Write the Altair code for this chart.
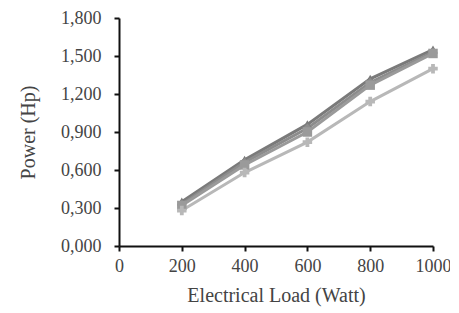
import altair as alt
import pandas as pd

loads = [200, 400, 600, 800, 1000]
series_names = ["S1", "S2", "S3", "S4"]
s1 = [0.35, 0.68, 0.96, 1.32, 1.55]
s2 = [0.33, 0.66, 0.93, 1.29, 1.53]
s3 = [0.32, 0.64, 0.90, 1.27, 1.52]
s4 = [0.28, 0.58, 0.82, 1.14, 1.40]
y_ticks = [0, 0.3, 0.6, 0.9, 1.2, 1.5, 1.8]
x_ticks = [0, 200, 400, 600, 800, 1000]

rows = []
for name, vals in zip(series_names, [s1, s2, s3, s4]):
    for x, v in zip(loads, vals):
        rows.append({"load": x, "power": v, "series": name})
df = pd.DataFrame(rows)

colors = ["#7a7a7a", "#8c8c8c", "#9a9a9a", "#b8b8b8"]
shapes = ["triangle-up", "diamond", "square", "cross"]

base = alt.Chart(df).encode(
    x=alt.X("load:Q", scale=alt.Scale(domain=[0, 1000], nice=False),
            axis=alt.Axis(values=x_ticks, title="Electrical Load (Watt)", format="d",
                          grid=False, tickSize=5, labelPadding=6, titlePadding=10,
                          labelOverlap=False, labelFlush=False)),
    y=alt.Y("power:Q", scale=alt.Scale(domain=[0, 1.8], nice=False),
            axis=alt.Axis(values=y_ticks, title="Power (Hp)",
                          grid=False, tickSize=5, labelPadding=13, titlePadding=22,
                          labelOverlap=False, labelFlush=False,
                          labelExpr="replace(format(datum.value, '.3f'), '.', ',')")),
    color=alt.Color("series:N", scale=alt.Scale(domain=series_names, range=colors), legend=None),
)

lines = base.mark_line(strokeWidth=3)
points = base.mark_point(filled=True, size=90, opacity=1).encode(
    shape=alt.Shape("series:N", scale=alt.Scale(domain=series_names, range=shapes), legend=None))

chart = alt.layer(lines, points).properties(
    width=314, height=228,
    autosize=alt.AutoSizeParams(type="none"),
    padding={"left": 111, "top": 10, "right": 17, "bottom": 61},
).configure_view(stroke=None).configure_axis(
    domainColor="#111111", domainWidth=2, tickColor="#111111", tickWidth=2,
    labelFont="Liberation Serif", titleFont="Liberation Serif",
    labelFontSize=18, titleFontSize=20, titleFontWeight="normal",
    labelColor="#444444", titleColor="#444444",
)

chart.save("out.html", embed_options={"renderer": "svg", "actions": False})
